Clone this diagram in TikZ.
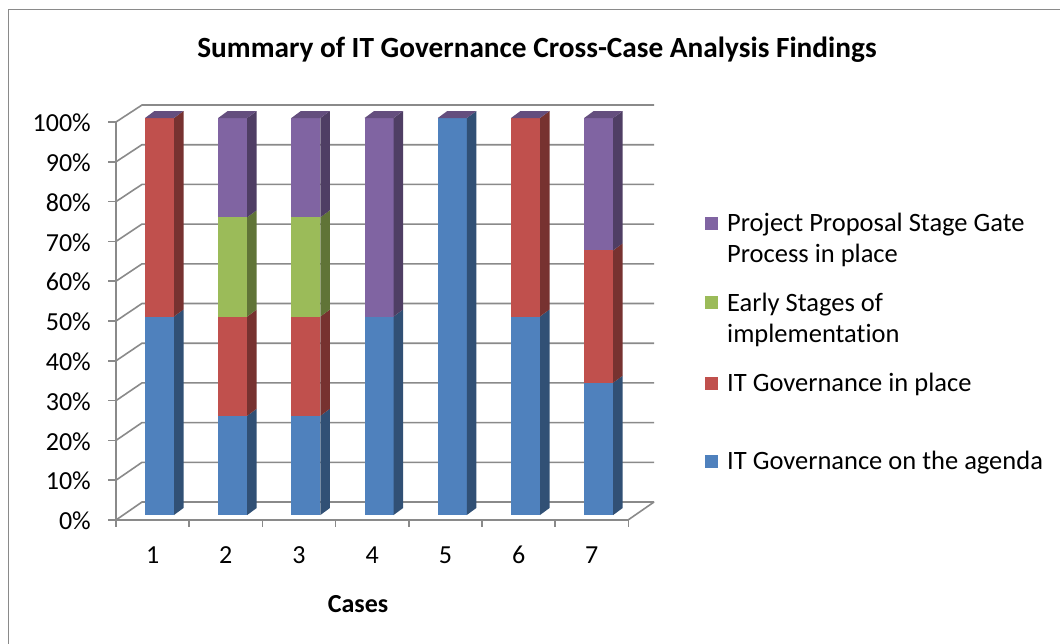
\documentclass[tikz,border=0pt]{standalone}
\usepackage{fontspec}
\setmainfont{Carlito}[Ligatures=NoCommon]
\definecolor{cblue}{HTML}{4F81BD}
\definecolor{cred}{HTML}{C0504D}
\definecolor{cgreen}{HTML}{9BBB59}
\definecolor{cpurple}{HTML}{8064A2}
\colorlet{sblue}{cblue!62!black}
\colorlet{sred}{cred!62!black}
\colorlet{sgreen}{cgreen!62!black}
\colorlet{spurple}{cpurple!62!black}
\colorlet{tpurple}{cpurple!78!black}
\definecolor{gridgray}{HTML}{8A8A8A}
\newcommand\barseg[4]{% #1 bar index, #2 from %, #3 to %, #4 colour name
  \pgfmathsetmacro\xa{145+73.2*(#1-1)}
  \pgfmathsetmacro\xb{\xa+29}
  \pgfmathsetmacro\ya{515-3.97*#2}
  \pgfmathsetmacro\yb{515-3.97*#3}
  \fill[c#4] (\xa,\ya) rectangle (\xb,\yb);
  \fill[s#4] (\xb,\ya) -- (\xb,\yb) -- ++(9.5,-7) -- (\xb+9.5,\ya-7) -- cycle;
}
\newcommand\bartop[1]{%
  \pgfmathsetmacro\xa{145+73.2*(#1-1)}
  \pgfmathsetmacro\xb{\xa+29}
  \pgfmathsetmacro\yb{515-3.97*100}
  \fill[tpurple] (\xa,\yb) -- (\xb,\yb) -- ++(9.5,-7) -- (\xa+9.5,\yb-7) -- cycle;
}
\tikzset{
  gridln/.style={draw=gridgray, line width=1.6pt},
  axlab/.style={font=\fontsize{26}{30}\selectfont, inner sep=0pt},
  legtext/.style={font=\fontsize{26.5}{31}\selectfont, align=left, inner sep=0pt, anchor=base west},
  legbox/.style={minimum size=13pt, inner sep=0pt},
  boldlab/.style={font=\fontsize{26}{30}\selectfont\bfseries, inner sep=0pt}
}
\begin{document}
\begin{tikzpicture}[x=1pt,y=-1pt]
\useasboundingbox (0,0) rectangle (1060,643);
\clip (0,0) rectangle (1060,643);
\fill[white] (0,0) rectangle (1060,643);
\draw[gridgray, line width=1.8pt] (8.5,9.5) rectangle (1075,660);

% title
\node[boldlab, font=\fontsize{29.3}{34}\selectfont\bfseries] (title) at (537,50) {Summary of IT Governance Cross-Case Analysis Findings};

% back wall gridlines and left wall
\foreach \k in {0,...,10} {
  \pgfmathsetmacro\yb{502-39.7*\k}
  \pgfmathsetmacro\yf{520-39.8*\k}
  \draw[gridln] (116,\yf) -- (142,\yb) -- (654,\yb);
  \draw[gridln] (108,\yf) -- (116,\yf);
  \pgfmathtruncatemacro\pc{10*\k}
  \node[axlab, anchor=east] (ylab\k) at (91,\yf+1) {\pc\%};
}
\draw[gridln] (116,520) -- (116,122);
% floor
\draw[gridln] (116,520) -- (628,520) -- (654,502);
\foreach \k in {0,...,7} {
  \draw[gridln] ({116+73.2*\k},520) -- ({116+73.2*\k},527);
}
\foreach \k in {1,...,7} {
  \node[axlab] (cat\k) at ({116+73.2*(\k-0.5)},555) {\k};
}
\node[boldlab] (xtitle) at (358,604) {Cases};

% bars
\barseg{1}{0}{50}{blue}\barseg{1}{50}{100}{red}\bartop{1}
\barseg{2}{0}{25}{blue}\barseg{2}{25}{50}{red}\barseg{2}{50}{75}{green}\barseg{2}{75}{100}{purple}\bartop{2}
\barseg{3}{0}{25}{blue}\barseg{3}{25}{50}{red}\barseg{3}{50}{75}{green}\barseg{3}{75}{100}{purple}\bartop{3}
\barseg{4}{0}{50}{blue}\barseg{4}{50}{100}{purple}\bartop{4}
\barseg{5}{0}{100}{blue}\bartop{5}
\barseg{6}{0}{50}{blue}\barseg{6}{50}{100}{red}\bartop{6}
\barseg{7}{0}{33.33}{blue}\barseg{7}{33.33}{66.67}{red}\barseg{7}{66.67}{100}{purple}\bartop{7}

% legend
\node[legbox, fill=cpurple] (lk1) at (711.5,223) {};
\node[legtext] (lt1) at (727,262) {Project Proposal Stage Gate\\Process in place};
\node[legbox, fill=cgreen] (lk2) at (711.5,302) {};
\node[legtext] (lt2) at (727,342) {Early Stages of\\implementation};
\node[legbox, fill=cred] (lk3) at (711.5,383) {};
\node[legtext] (lt3) at (727,391) {IT Governance in place};
\node[legbox, fill=cblue] (lk4) at (711.5,461) {};
\node[legtext] (lt4) at (727,469) {IT Governance on the agenda};
\end{tikzpicture}
\end{document}
